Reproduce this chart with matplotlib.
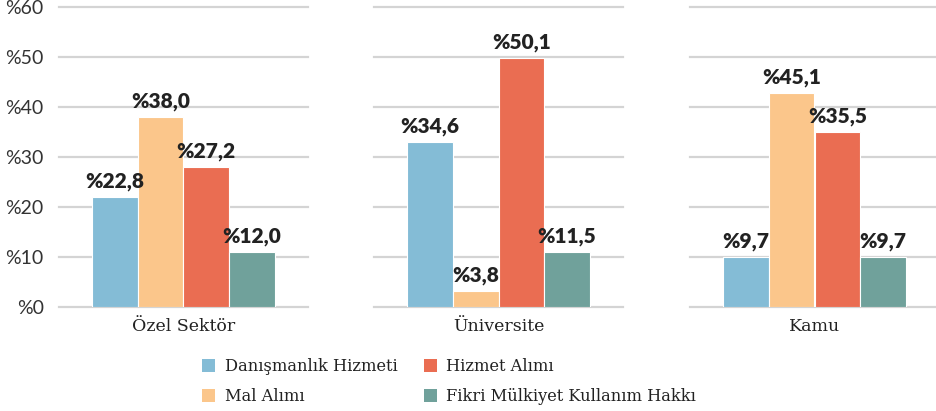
import matplotlib
matplotlib.use("Agg")
import matplotlib.pyplot as plt
from matplotlib.patches import Patch

categories = ["Özel Sektör", "Üniversite", "Kamu"]
series = ["Danışmanlık Hizmeti", "Mal Alımı", "Hizmet Alımı", "Fikri Mülkiyet Kullanım Hakkı"]
colors = ["#84bcd6", "#fbc68b", "#ea6d52", "#70a19b"]
# drawn bar heights and printed labels
heights = {
    "Özel Sektör": [22, 38, 28, 11],
    "Üniversite": [33, 3.2, 49.8, 11],
    "Kamu": [10, 42.8, 35, 10],
}
labels = {
    "Özel Sektör": ["%22,8", "%38,0", "%27,2", "%12,0"],
    "Üniversite": ["%34,6", "%3,8", "%50,1", "%11,5"],
    "Kamu": ["%9,7", "%45,1", "%35,5", "%9,7"],
}
yticks = [0, 10, 20, 30, 40, 50, 60]
ytick_labels = ["%0", "%10", "%20", "%30", "%40", "%50", "%60"]

W, H = 936, 411
fig = plt.figure(figsize=(W / 100, H / 100), dpi=100)

panel_left_px = [59, 374, 690]
panel_w_px = 249
y0_px, y60_px = 307, 7
bottom = 1 - y0_px / H
height = (y0_px - y60_px) / H

xs = [0, 1, 2, 3]
for i, cat in enumerate(categories):
    ax = fig.add_axes([panel_left_px[i] / W, bottom, panel_w_px / W, height])
    ax.set_ylim(0, 60)
    ax.set_xlim(1.5 - 2.736, 1.5 + 2.736)
    for y in yticks:
        ax.axhline(y, color="#d4d4d4", lw=1.6, zorder=0, clip_on=False)
    bars = ax.bar(xs, heights[cat], width=1.0, color=colors, edgecolor="white",
                  linewidth=0.8, zorder=2)
    for b, lab in zip(bars, labels[cat]):
        ax.annotate(lab, (b.get_x() + b.get_width() / 2, b.get_height()),
                    xytext=(0, 4.5), textcoords="offset points", ha="center", va="bottom",
                    fontsize=15, fontweight="heavy", family="Lato", color="#222222", zorder=3)
    for s in ax.spines.values():
        s.set_visible(False)
    ax.set_xticks([1.5])
    ax.set_xticklabels([cat], family="DejaVu Serif", fontsize=12.5, color="#222222")
    ax.tick_params(axis="x", length=0, pad=8)
    ax.set_yticks(yticks)
    if i == 0:
        ax.set_yticklabels(ytick_labels, family="Lato", fontsize=14, color="#333333")
        ax.tick_params(axis="y", length=0, pad=11)
    else:
        ax.tick_params(axis="y", length=0, labelleft=False)

handles = [Patch(facecolor=c, edgecolor="none") for c in colors]
leg = fig.legend(handles, series, ncol=2, loc="upper left",
                 bbox_to_anchor=(202 / W, 1 - 358 / H), frameon=False,
                 prop={"family": "DejaVu Serif", "size": 11.7},
                 handlelength=0.8, handleheight=0.85, handletextpad=0.6,
                 columnspacing=1.6, labelspacing=0.8, borderpad=0, borderaxespad=0)
for t in leg.get_texts():
    t.set_color("#222222")

fig.savefig("out.png", dpi=100)
